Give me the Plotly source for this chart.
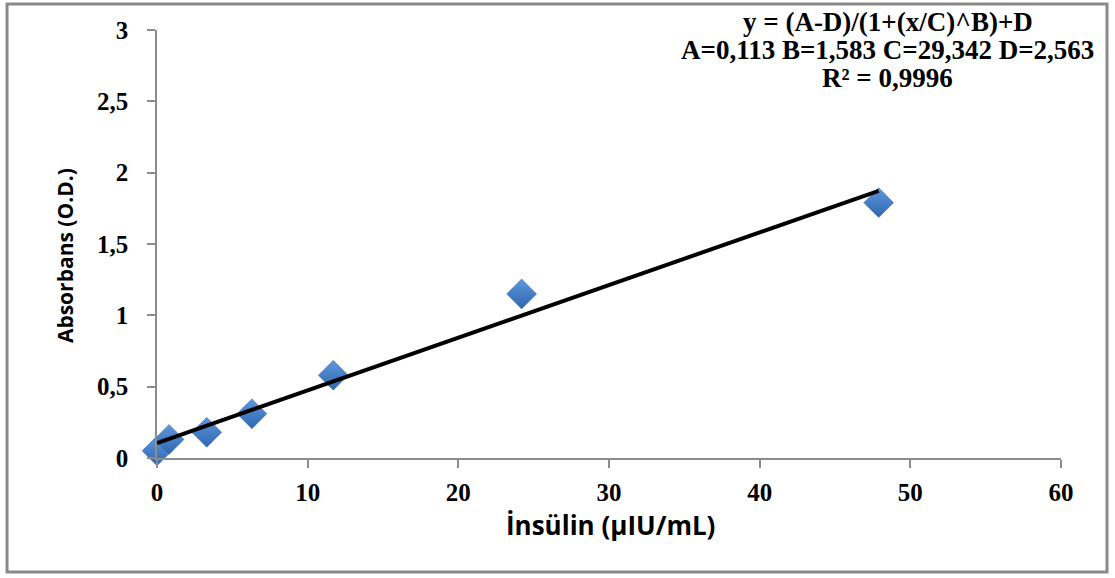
import plotly.graph_objects as go

# Data
insulin = [0, 0.8, 3.3, 6.3, 11.7, 24.2, 47.9]
absorbance = [0.05, 0.13, 0.18, 0.31, 0.58, 1.15, 1.79]

fit_x = [0, 47.9]
fit_y = [0.105, 1.873]

x_ticks = [0, 10, 20, 30, 40, 50, 60]
y_ticks = [0, 0.5, 1, 1.5, 2, 2.5, 3]
y_tick_text = ["0", "0,5", "1", "1,5", "2", "2,5", "3"]

eq_lines = [
    "y = (A-D)/(1+(x/C)^B)+D",
    "A=0,113 B=1,583 C=29,342 D=2,563",
    "R² = 0,9996",
]

SERIF = "Liberation Serif"
SANS = "Open Sans"
AXIS_GRAY = "#8c8c8c"

fig = go.Figure()

fig.add_trace(go.Scatter(
    x=insulin, y=absorbance, mode="markers",
    marker=dict(symbol="diamond", size=23, color="#5f97dc",
                gradient=dict(type="vertical", color="#2f67b0"),
                line=dict(width=0.5, color="#3a6fb5")),
    showlegend=False, hoverinfo="x+y", cliponaxis=False,
))

fig.add_trace(go.Scatter(
    x=fit_x, y=fit_y, mode="lines",
    line=dict(color="black", width=4),
    showlegend=False, hoverinfo="skip", cliponaxis=False,
))

fig.update_layout(
    width=1115, height=578,
    margin=dict(l=157, r=54, t=30, b=120),
    paper_bgcolor="white", plot_bgcolor="white",
    xaxis=dict(
        range=[0, 60], tickvals=x_ticks, ticktext=[str(v) for v in x_ticks],
        showgrid=False, zeroline=False, showline=True,
        linecolor=AXIS_GRAY, linewidth=1.5,
        ticks="outside", ticklen=8, tickcolor=AXIS_GRAY, tickwidth=1.5,
        tickfont=dict(family=SERIF, size=25, color="black", weight="bold"),
        ticklabelstandoff=3,
    ),
    yaxis=dict(
        range=[0, 3], tickvals=y_ticks, ticktext=y_tick_text,
        showgrid=False, zeroline=False, showline=True,
        linecolor=AXIS_GRAY, linewidth=1.5,
        ticks="outside", ticklen=8, tickcolor=AXIS_GRAY, tickwidth=1.5,
        tickfont=dict(family=SERIF, size=25, color="black", weight="bold"),
        ticklabelstandoff=14,
    ),
)

# Outer frame
fig.add_shape(type="rect", xref="paper", yref="paper",
              x0=-0.1659, x1=1.0509, y0=-0.2664, y1=1.0607,
              line=dict(color="#8a8a8a", width=3), layer="below")

# Equation annotations
eq_y = [1.0187, 0.9533, 0.8879]
for txt, yy in zip(eq_lines, eq_y):
    fig.add_annotation(text=txt, xref="paper", yref="paper", x=0.8086, y=yy,
                       xanchor="center", yanchor="middle", showarrow=False,
                       font=dict(family=SERIF, size=27, color="black", weight="bold"))

# Axis titles
fig.add_annotation(text="İnsülin (µIU/mL)", xref="paper", yref="paper",
                   x=0.502, y=-0.1565, xanchor="center", yanchor="middle",
                   showarrow=False,
                   font=dict(family=SANS, size=26, color="black", weight="bold"))
fig.add_annotation(text="Absorbans (O.D.)", xref="paper", yref="paper",
                   x=-0.1018, y=0.474, xanchor="center", yanchor="middle",
                   textangle=-90, showarrow=False,
                   font=dict(family=SANS, size=21, color="black", weight="bold"))

fig.write_html("out.html")
